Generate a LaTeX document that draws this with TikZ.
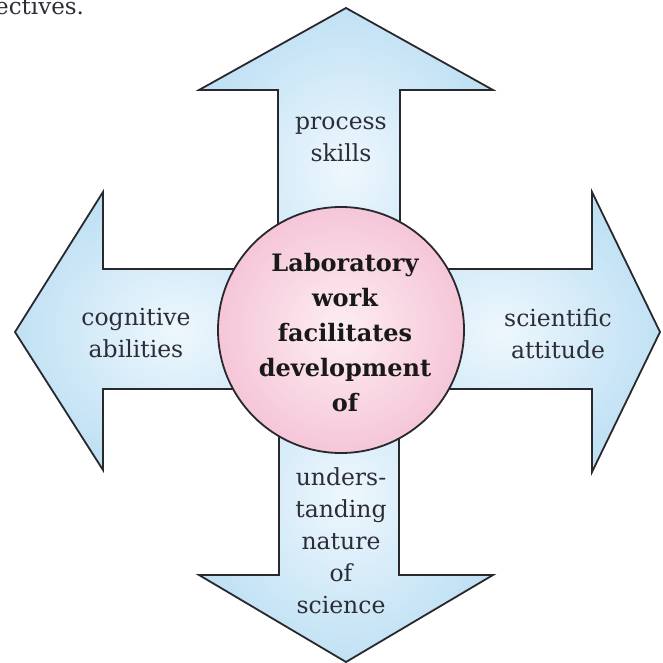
\documentclass[tikz,border=0pt]{standalone}
\usepackage{fontspec}
\setmainfont{DejaVu Serif}
\begin{document}
\definecolor{bluein}{RGB}{238,247,253}
\definecolor{blueout}{RGB}{192,225,244}
\definecolor{pinkin}{RGB}{253,238,243}
\definecolor{pinkout}{RGB}{245,198,216}
\definecolor{edgegray}{RGB}{40,40,45}
\definecolor{inkgray}{RGB}{45,45,55}
\tikzset{
  arrowshape/.style={draw=edgegray, line width=1.8pt, line join=miter,
    inner color=bluein, outer color=blueout},
  hubshape/.style={circle, draw=edgegray, line width=1.8pt,
    inner color=pinkin, outer color=pinkout, minimum size=246pt, inner sep=0pt},
  armlabel/.style={align=center, text=inkgray, inner sep=0pt,
    font=\fontsize{23.5}{32}\selectfont},
  hublabel/.style={align=center, text=black!90, inner sep=0pt,
    font=\fontsize{24}{35}\selectfont\bfseries}
}
\begin{tikzpicture}[x=1pt, y=-1pt]
\useasboundingbox (0,0) rectangle (663,663);

% running text cut off at the top edge
\begin{scope}
  \clip (0,0) rectangle (663,663);
  \node[anchor=base west, inner sep=0pt, text=inkgray,
        font=\fontsize{23}{26}\selectfont] (runon) at (-5,15) {ectives.};
\end{scope}

% four block arrows, shafts meeting under the hub
\shadedraw[arrowshape] (278,330) -- (278,90) -- (199,90) -- (346,8)
  -- (493,90) -- (400,90) -- (400,330) -- cycle;
\shadedraw[arrowshape] (279,330) -- (279,575) -- (199,575) -- (346,662)
  -- (493,575) -- (399,575) -- (399,330) -- cycle;
\shadedraw[arrowshape] (341,269) -- (103,269) -- (103,192) -- (15,332)
  -- (103,470) -- (103,389) -- (341,389) -- cycle;
\shadedraw[arrowshape] (341,269) -- (592,269) -- (592,192) -- (660,332)
  -- (592,472) -- (592,389) -- (341,389) -- cycle;

% central hub
\node[hubshape] (hub) at (341,330) {};
\node[hublabel] (hubtext) at (345,333)
  {Laboratory\\work\\facilitates\\development\\of};

% arrow labels
\node[armlabel] (up) at (341,139) {process\\skills};
\node[armlabel] (left) at (136,333) {cognitive\\abilities};
\node[armlabel] (right) at (558,334) {scientific\\attitude};
\node[armlabel] (down) at (341,541) {unders-\\tanding\\nature\\of\\science};
\end{tikzpicture}
\end{document}
